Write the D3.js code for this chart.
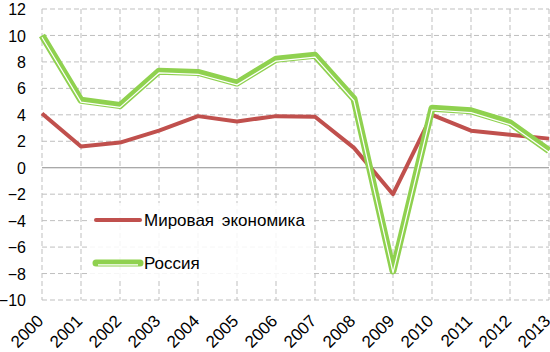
<!DOCTYPE html>
<html><head><meta charset="utf-8">
<script src="https://cdn.jsdelivr.net/npm/d3@7"></script>
<style>body{margin:0;background:#fff}svg{display:block}</style>
</head><body>
<script>
const years = ["2000","2001","2002","2003","2004","2005","2006","2007","2008","2009","2010","2011","2012","2013"];
const world = [4.1,1.6,1.9,2.8,3.9,3.5,3.9,3.85,1.5,-2.0,4.0,2.8,2.5,2.2];
const russia = [10.0,5.1,4.7,7.3,7.2,6.4,8.2,8.5,5.2,-7.8,4.5,4.3,3.4,1.3];
const yTicks = [-10,-8,-6,-4,-2,0,2,4,6,8,10,12];
const seriesNames = ["Мировая экономика","Россия"];

const W=550,H=352;
const svg=d3.select("body").append("svg").attr("width",W).attr("height",H);
const x=d3.scalePoint().domain(years).range([42,549]);
const y=d3.scaleLinear().domain([-10,12]).range([300,9]);
const font="'Liberation Sans', Arial, sans-serif";

// grid
const g=svg.append("g");
g.selectAll(".hg").data(yTicks.filter(d=>d!==0)).enter().append("line")
 .attr("x1",42).attr("x2",549).attr("y1",d=>y(d)).attr("y2",d=>y(d))
 .attr("stroke","#bfbfbf").attr("stroke-width",1).attr("stroke-dasharray","5,3");
g.selectAll(".vg").data(years).enter().append("line")
 .attr("x1",d=>x(d)).attr("x2",d=>x(d)).attr("y1",9).attr("y2",300)
 .attr("stroke","#bfbfbf").attr("stroke-width",1).attr("stroke-dasharray","5,3");
g.append("line").attr("x1",42).attr("x2",549).attr("y1",y(0)).attr("y2",y(0))
 .attr("stroke","#8c8c8c").attr("stroke-width",1.2);

// y axis labels
const yAxis=d3.axisLeft(y).tickValues(yTicks).tickSize(0).tickPadding(14).tickFormat(d3.format("d"));
const ya=svg.append("g").attr("transform","translate(40,0)").call(yAxis);
ya.select(".domain").remove();
ya.selectAll("text").attr("font-family",font).attr("font-size",16).attr("fill","#000").attr("dy","0.35em");

// x axis labels
const xAxis=d3.axisBottom(x).tickSize(0).tickPadding(0);
const xa=svg.append("g").attr("transform","translate(0,300)").call(xAxis);
xa.select(".domain").remove();
xa.selectAll("text").attr("font-family",font).attr("font-size",17).attr("fill","#000")
 .attr("text-anchor","end").attr("dy",0).attr("y",0)
 .attr("transform","translate(2,22) rotate(-45)");

const line=d3.line().x((d,i)=>x(years[i])).y(d=>y(d));
// world
svg.append("path").datum(world).attr("d",line).attr("fill","none")
 .attr("stroke","#C0504D").attr("stroke-width",4).attr("stroke-linejoin","round");
// russia compound line
svg.append("path").datum(russia).attr("d",line).attr("fill","none")
 .attr("stroke","#8FD14F").attr("stroke-width",7).attr("stroke-linejoin","round");
svg.append("path").datum(russia).attr("d",line).attr("fill","none")
 .attr("stroke","#ffffff").attr("stroke-width",1.2).attr("stroke-linejoin","round")
 .attr("transform","translate(0,1.8)");

// legend
const lg=svg.append("g");
lg.append("rect").attr("x",88).attr("y",203).attr("width",225).attr("height",76).attr("fill","#fff").attr("opacity",0.85);
lg.append("line").attr("x1",96).attr("x2",140).attr("y1",220).attr("y2",220)
 .attr("stroke","#C0504D").attr("stroke-width",4).attr("stroke-linecap","round");
lg.append("text").attr("x",144).attr("y",226).text(seriesNames[0])
 .attr("font-family",font).attr("font-size",17).attr("fill","#000").attr("word-spacing",3);
lg.append("line").attr("x1",96).attr("x2",140).attr("y1",263).attr("y2",263)
 .attr("stroke","#8FD14F").attr("stroke-width",7).attr("stroke-linecap","round");
lg.append("line").attr("x1",98).attr("x2",138).attr("y1",264.8).attr("y2",264.8)
 .attr("stroke","#fff").attr("stroke-width",1.2);
lg.append("text").attr("x",144).attr("y",269).text(seriesNames[1])
 .attr("font-family",font).attr("font-size",17).attr("fill","#000");
</script>
</body></html>
